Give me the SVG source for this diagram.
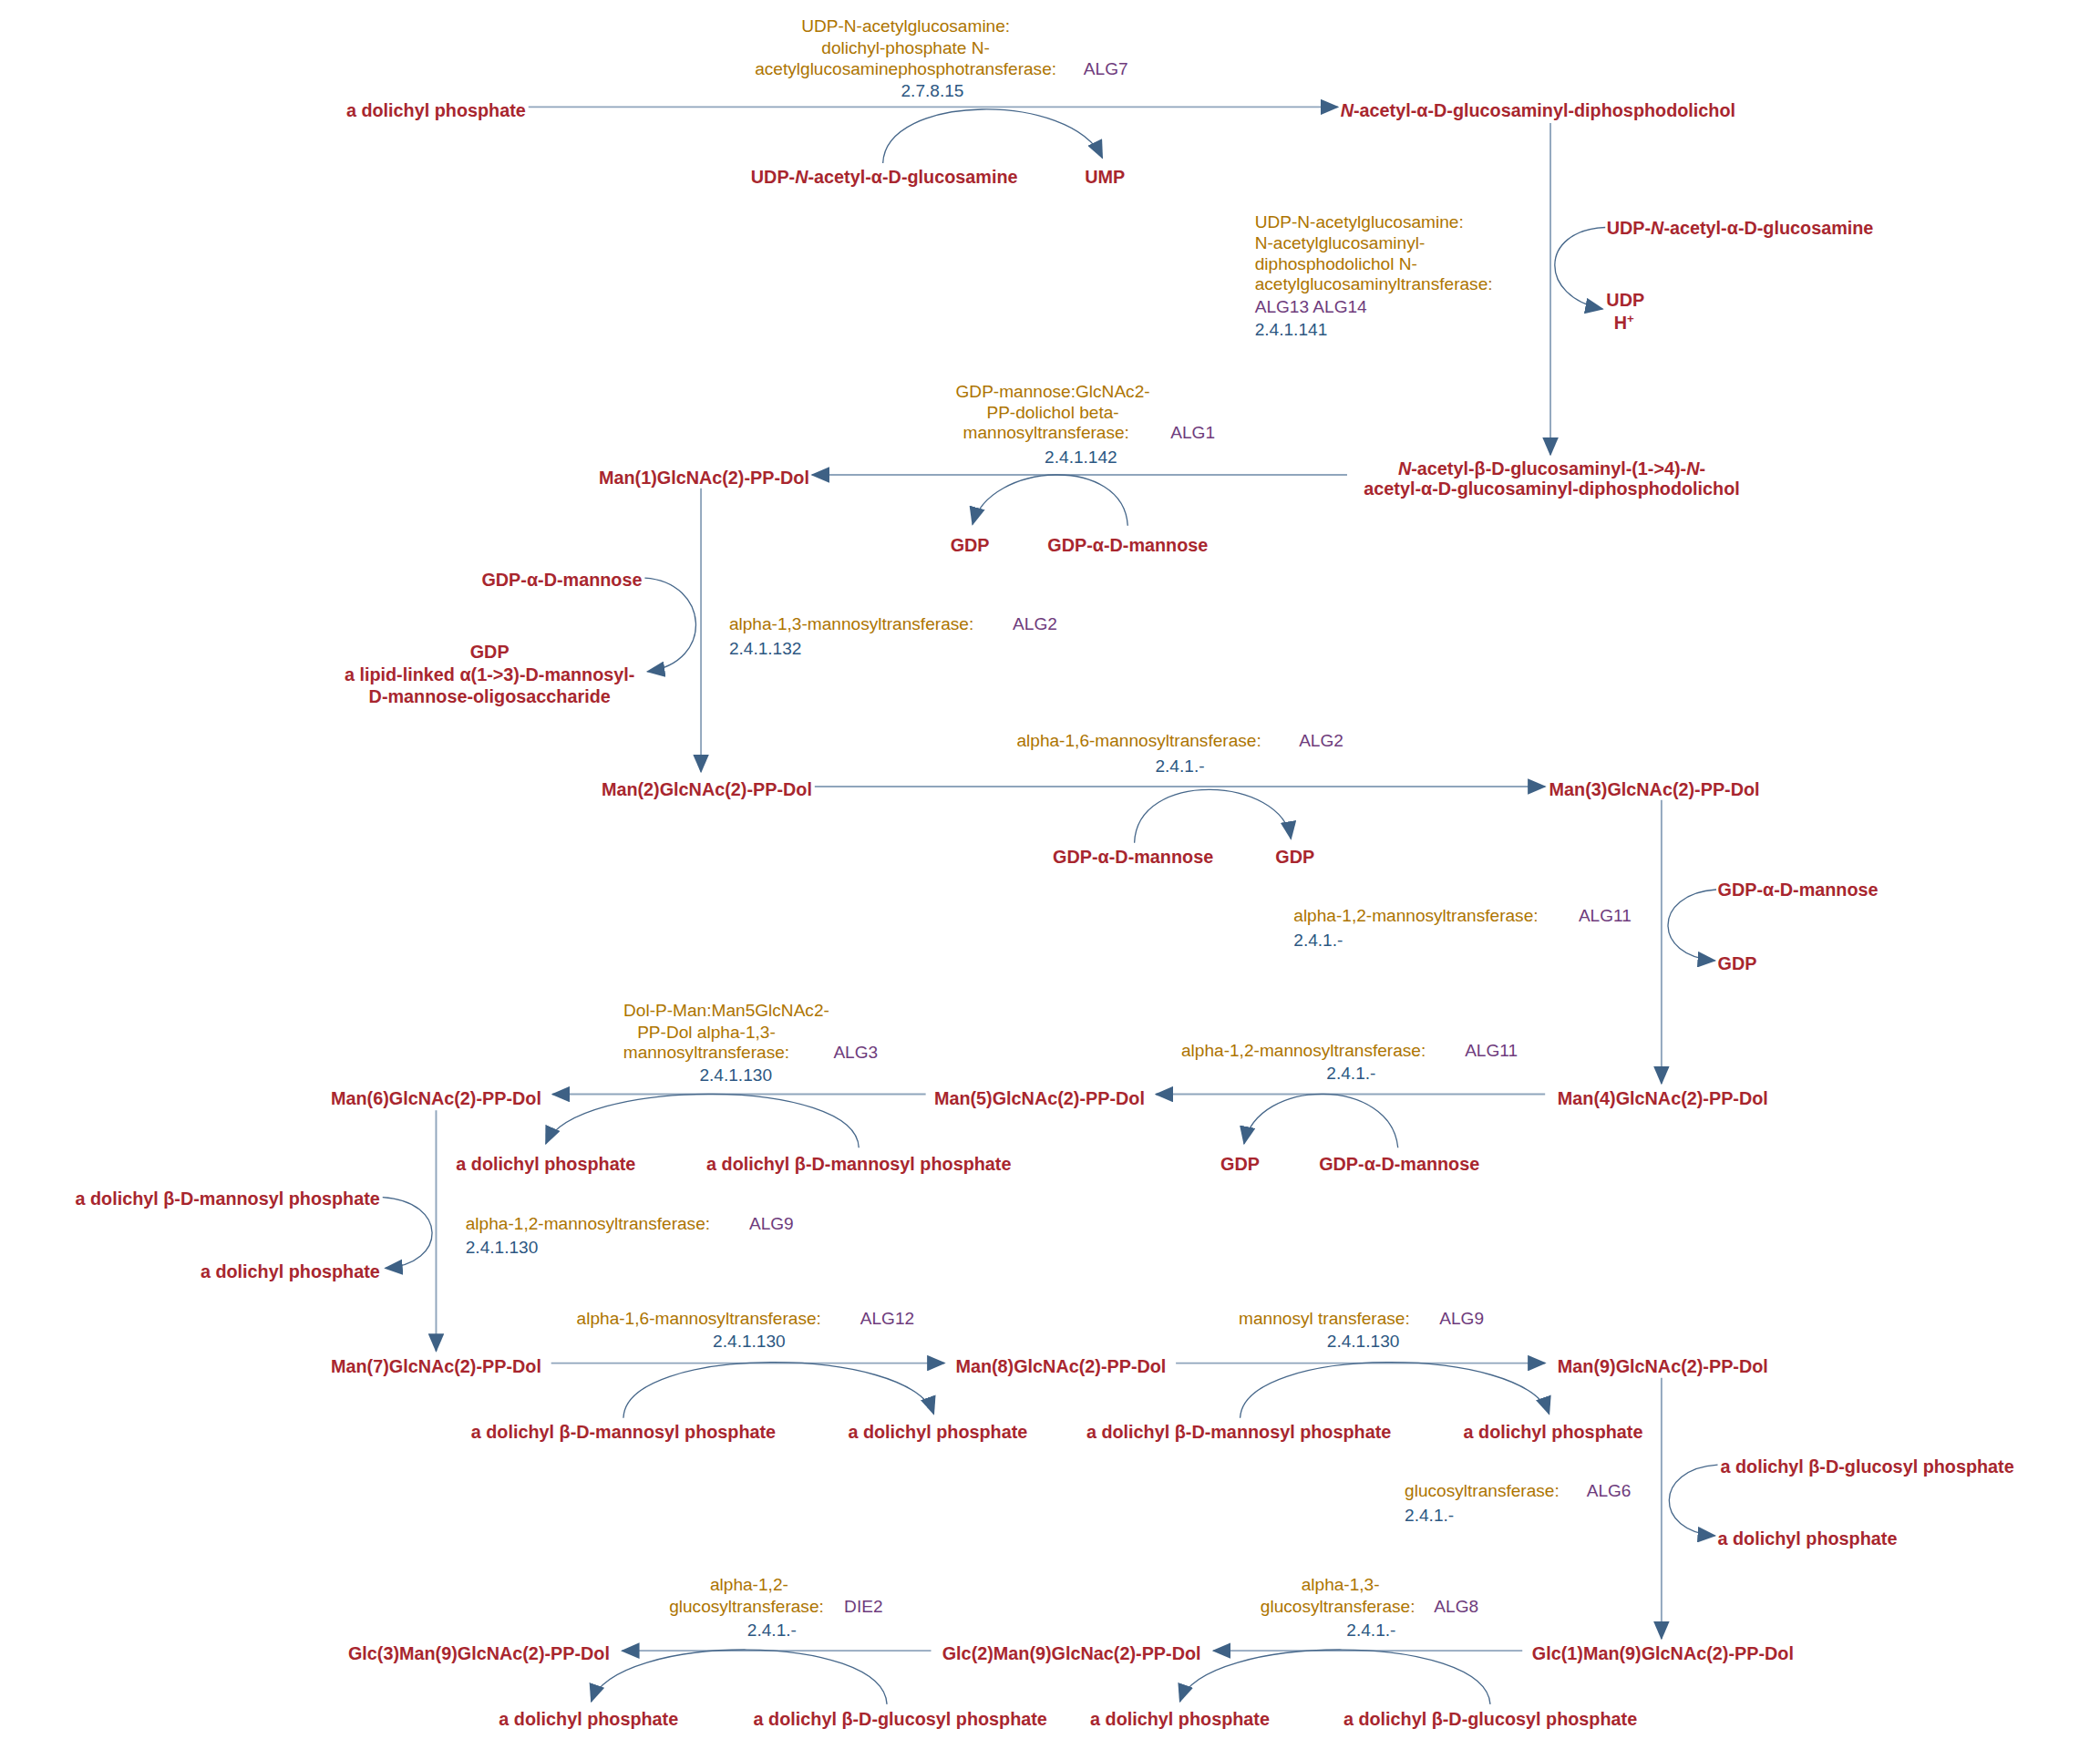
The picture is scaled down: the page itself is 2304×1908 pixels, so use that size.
<svg xmlns="http://www.w3.org/2000/svg" width="2304" height="1908" viewBox="0 0 2304 1908">
<style>
.m{font-family:"Liberation Sans",Arial,sans-serif;font-weight:bold;font-size:13.5px;fill:#a8262e}
.e{font-family:"Liberation Sans",Arial,sans-serif;font-size:13px;fill:#ad7400}
.g{font-family:"Liberation Sans",Arial,sans-serif;font-size:13px;fill:#6e3b7c}
.c{font-family:"Liberation Sans",Arial,sans-serif;font-size:13px;fill:#2c5782}
.l{fill:none;stroke:#8fa5bc;stroke-width:1.3}
.s{fill:none;stroke:#46678a;stroke-width:0.9}
.mid{text-anchor:middle}.end{text-anchor:end}
</style>
<defs>
<marker id="a" markerUnits="userSpaceOnUse" markerWidth="14" markerHeight="12" refX="13" refY="6" orient="auto"><path d="M0,0 L14,6 L0,12 z" fill="#3e6185"/></marker>
</defs>
<rect width="2304" height="1908" fill="#fff"/>
<g transform="scale(1.4677)">
<g id="connectors">
<path class="l" d="M395,80 H1000" marker-end="url(#a)"/>
<path class="s" d="M660,122 C662,70 800,68 824,118" marker-end="url(#a)"/>
<path class="l" d="M1159,92 V340" marker-end="url(#a)"/>
<path class="s" d="M1200,170 C1150,172 1150,222 1198,231" marker-end="url(#a)"/>
<path class="l" d="M1007,355 H607" marker-end="url(#a)"/>
<path class="s" d="M843,393 C840,340 740,345 727,392" marker-end="url(#a)"/>
<path class="l" d="M524,365 V577" marker-end="url(#a)"/>
<path class="s" d="M482,432 C530,435 535,495 484,502" marker-end="url(#a)"/>
<path class="l" d="M609,588 H1155" marker-end="url(#a)"/>
<path class="s" d="M848,630 C850,575 958,580 965,627" marker-end="url(#a)"/>
<path class="l" d="M1242,598 V810" marker-end="url(#a)"/>
<path class="s" d="M1283,665 C1235,668 1235,715 1282,718" marker-end="url(#a)"/>
<path class="l" d="M1155,818 H864" marker-end="url(#a)"/>
<path class="s" d="M1045,858 C1040,805 940,805 930,855" marker-end="url(#a)"/>
<path class="l" d="M692,818 H413" marker-end="url(#a)"/>
<path class="s" d="M642,858 C640,805 430,805 408,855" marker-end="url(#a)"/>
<path class="l" d="M326,830 V1010" marker-end="url(#a)"/>
<path class="s" d="M286,895 C335,898 335,945 288,948" marker-end="url(#a)"/>
<path class="l" d="M412,1019 H706" marker-end="url(#a)"/>
<path class="s" d="M466,1060 C468,1005 680,1005 698,1057" marker-end="url(#a)"/>
<path class="l" d="M879,1019 H1155" marker-end="url(#a)"/>
<path class="s" d="M927,1060 C930,1005 1140,1005 1158,1057" marker-end="url(#a)"/>
<path class="l" d="M1242,1030 V1225" marker-end="url(#a)"/>
<path class="s" d="M1284,1095 C1236,1098 1236,1145 1282,1148" marker-end="url(#a)"/>
<path class="l" d="M1138,1234 H907" marker-end="url(#a)"/>
<path class="s" d="M1114,1274 C1110,1220 900,1220 882,1272" marker-end="url(#a)"/>
<path class="l" d="M696,1234 H465" marker-end="url(#a)"/>
<path class="s" d="M663,1274 C660,1220 460,1220 442,1272" marker-end="url(#a)"/>
</g>
<g id="n1"><text class="m end" x="393" y="87">a dolichyl phosphate</text></g>
<g id="n2"><text class="m" x="1002" y="87"><tspan font-style="italic">N</tspan>-acetyl-α-D-glucosaminyl-diphosphodolichol</text></g>
<g id="n3"><text class="m mid" x="661" y="137">UDP-<tspan font-style="italic">N</tspan>-acetyl-α-D-glucosamine</text><text class="m mid" x="826" y="137">UMP</text></g>
<g id="e1"><text class="e mid" x="677" y="24">UDP-N-acetylglucosamine:</text><text class="e mid" x="677" y="40">dolichyl-phosphate N-</text><text class="e mid" x="677" y="56">acetylglucosaminephosphotransferase:</text><text class="g" x="810" y="56">ALG7</text><text class="c mid" x="697" y="72">2.7.8.15</text></g>
<g id="n4"><text class="m mid" x="1160" y="355"><tspan font-style="italic">N</tspan>-acetyl-β-D-glucosaminyl-(1-&gt;4)-<tspan font-style="italic">N</tspan>-</text><text class="m mid" x="1160" y="370">acetyl-α-D-glucosaminyl-diphosphodolichol</text></g>
<g id="n5"><text class="m" x="1201" y="175">UDP-<tspan font-style="italic">N</tspan>-acetyl-α-D-glucosamine</text><text class="m mid" x="1215" y="229">UDP</text><text class="m mid" x="1214" y="246">H<tspan font-size="9" dy="-5">+</tspan></text></g>
<g id="e2"><text class="e" x="938" y="170">UDP-N-acetylglucosamine:</text><text class="e" x="938" y="186">N-acetylglucosaminyl-</text><text class="e" x="938" y="202">diphosphodolichol N-</text><text class="e" x="938" y="217">acetylglucosaminyltransferase:</text><text class="g" x="938" y="234">ALG13  ALG14</text><text class="c" x="938" y="251">2.4.1.141</text></g>
<g id="n6"><text class="m end" x="605" y="362">Man(1)GlcNAc(2)-PP-Dol</text></g>
<g id="n7"><text class="m mid" x="725" y="412">GDP</text><text class="m mid" x="843" y="412">GDP-α-D-mannose</text></g>
<g id="e3"><text class="e mid" x="787" y="297">GDP-mannose:GlcNAc2-</text><text class="e mid" x="787" y="313">PP-dolichol beta-</text><text class="e mid" x="782" y="328">mannosyltransferase:</text><text class="g" x="875" y="328">ALG1</text><text class="c mid" x="808" y="346">2.4.1.142</text></g>
<g id="n8"><text class="m end" x="480" y="438">GDP-α-D-mannose</text><text class="m mid" x="366" y="492">GDP</text><text class="m mid" x="366" y="509">a lipid-linked α(1-&gt;3)-D-mannosyl-</text><text class="m mid" x="366" y="525">D-mannose-oligosaccharide</text></g>
<g id="e4"><text class="e" x="545" y="471">alpha-1,3-mannosyltransferase:</text><text class="g" x="757" y="471">ALG2</text><text class="c" x="545" y="489">2.4.1.132</text></g>
<g id="n9"><text class="m end" x="607" y="595">Man(2)GlcNAc(2)-PP-Dol</text></g>
<g id="n10"><text class="m" x="1158" y="595">Man(3)GlcNAc(2)-PP-Dol</text></g>
<g id="n11"><text class="m mid" x="847" y="645">GDP-α-D-mannose</text><text class="m mid" x="968" y="645">GDP</text></g>
<g id="e5"><text class="e" x="760" y="558">alpha-1,6-mannosyltransferase:</text><text class="g" x="971" y="558">ALG2</text><text class="c mid" x="882" y="577">2.4.1.-</text></g>
<g id="n12"><text class="m" x="1284" y="670">GDP-α-D-mannose</text><text class="m" x="1284" y="725">GDP</text></g>
<g id="e6"><text class="e" x="967" y="689">alpha-1,2-mannosyltransferase:</text><text class="g" x="1180" y="689">ALG11</text><text class="c" x="967" y="707">2.4.1.-</text></g>
<g id="n13"><text class="m mid" x="1243" y="826">Man(4)GlcNAc(2)-PP-Dol</text></g>
<g id="n14"><text class="m mid" x="777" y="826">Man(5)GlcNAc(2)-PP-Dol</text></g>
<g id="n15"><text class="m mid" x="927" y="875">GDP</text><text class="m mid" x="1046" y="875">GDP-α-D-mannose</text></g>
<g id="e7"><text class="e" x="883" y="790">alpha-1,2-mannosyltransferase:</text><text class="g" x="1095" y="790">ALG11</text><text class="c mid" x="1010" y="807">2.4.1.-</text></g>
<g id="n16"><text class="m mid" x="326" y="826">Man(6)GlcNAc(2)-PP-Dol</text></g>
<g id="n17"><text class="m mid" x="408" y="875">a dolichyl phosphate</text><text class="m mid" x="642" y="875">a dolichyl β-D-mannosyl phosphate</text></g>
<g id="e8"><text class="e mid" x="543" y="760">Dol-P-Man:Man5GlcNAc2-</text><text class="e mid" x="528" y="776">PP-Dol alpha-1,3-</text><text class="e mid" x="528" y="791">mannosyltransferase:</text><text class="g" x="623" y="791">ALG3</text><text class="c mid" x="550" y="808">2.4.1.130</text></g>
<g id="n18"><text class="m end" x="284" y="901">a dolichyl β-D-mannosyl phosphate</text><text class="m end" x="284" y="955">a dolichyl phosphate</text></g>
<g id="e9"><text class="e" x="348" y="919">alpha-1,2-mannosyltransferase:</text><text class="g" x="560" y="919">ALG9</text><text class="c" x="348" y="937">2.4.1.130</text></g>
<g id="n19"><text class="m mid" x="326" y="1026">Man(7)GlcNAc(2)-PP-Dol</text></g>
<g id="n20"><text class="m mid" x="793" y="1026">Man(8)GlcNAc(2)-PP-Dol</text></g>
<g id="n21"><text class="m mid" x="1243" y="1026">Man(9)GlcNAc(2)-PP-Dol</text></g>
<g id="n22"><text class="m mid" x="466" y="1075">a dolichyl β-D-mannosyl phosphate</text><text class="m mid" x="701" y="1075">a dolichyl phosphate</text></g>
<g id="e10"><text class="e" x="431" y="990">alpha-1,6-mannosyltransferase:</text><text class="g" x="643" y="990">ALG12</text><text class="c mid" x="560" y="1007">2.4.1.130</text></g>
<g id="n23"><text class="m mid" x="926" y="1075">a dolichyl β-D-mannosyl phosphate</text><text class="m mid" x="1161" y="1075">a dolichyl phosphate</text></g>
<g id="e11"><text class="e" x="926" y="990">mannosyl transferase:</text><text class="g" x="1076" y="990">ALG9</text><text class="c mid" x="1019" y="1007">2.4.1.130</text></g>
<g id="n24"><text class="m" x="1286" y="1101">a dolichyl β-D-glucosyl phosphate</text><text class="m" x="1284" y="1155">a dolichyl phosphate</text></g>
<g id="e12"><text class="e" x="1050" y="1119">glucosyltransferase:</text><text class="g" x="1186" y="1119">ALG6</text><text class="c" x="1050" y="1137">2.4.1.-</text></g>
<g id="n25"><text class="m mid" x="1243" y="1241">Glc(1)Man(9)GlcNAc(2)-PP-Dol</text></g>
<g id="n26"><text class="m mid" x="801" y="1241">Glc(2)Man(9)GlcNac(2)-PP-Dol</text></g>
<g id="n27"><text class="m mid" x="882" y="1290">a dolichyl phosphate</text><text class="m mid" x="1114" y="1290">a dolichyl β-D-glucosyl phosphate</text></g>
<g id="e13"><text class="e mid" x="1002" y="1189">alpha-1,3-</text><text class="e mid" x="1000" y="1205">glucosyltransferase:</text><text class="g" x="1072" y="1205">ALG8</text><text class="c mid" x="1025" y="1223">2.4.1.-</text></g>
<g id="n28"><text class="m mid" x="358" y="1241">Glc(3)Man(9)GlcNAc(2)-PP-Dol</text></g>
<g id="n29"><text class="m mid" x="440" y="1290">a dolichyl phosphate</text><text class="m mid" x="673" y="1290">a dolichyl β-D-glucosyl phosphate</text></g>
<g id="e14"><text class="e mid" x="560" y="1189">alpha-1,2-</text><text class="e mid" x="558" y="1205">glucosyltransferase:</text><text class="g" x="631" y="1205">DIE2</text><text class="c mid" x="577" y="1223">2.4.1.-</text></g>
</g>
</svg>
